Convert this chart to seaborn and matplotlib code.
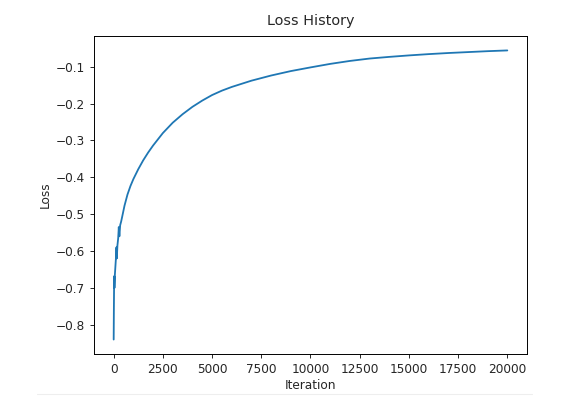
import matplotlib
matplotlib.use("Agg")
import matplotlib.pyplot as plt
import seaborn as sns
import pandas as pd
from matplotlib.lines import Line2D

iterations = [0, 10, 20, 30, 40, 60, 90, 120, 140, 160, 190, 230, 260, 290,
              330, 380, 440, 550, 700, 850, 1000, 1250, 1500, 1750, 2000,
              2500, 3000, 3500, 4000, 4500, 5000, 5500, 6000, 7000, 8000,
              9000, 10000, 11000, 12000, 13000, 14000, 15000, 16000, 17000,
              18000, 19000, 20000]
loss = [-0.840, -0.760, -0.700, -0.668, -0.700, -0.665, -0.640, -0.615,
        -0.590, -0.620, -0.585, -0.565, -0.535, -0.560, -0.530, -0.520,
        -0.505, -0.477, -0.447, -0.424, -0.405, -0.378, -0.354, -0.333,
        -0.314, -0.280, -0.252, -0.229, -0.209, -0.192, -0.177, -0.165,
        -0.155, -0.138, -0.124, -0.112, -0.102, -0.0925, -0.0845, -0.0780,
        -0.0735, -0.0695, -0.0660, -0.0630, -0.0605, -0.0580, -0.0560]

df = pd.DataFrame({"Iteration": iterations, "Loss": loss})

sns.set_style("ticks")
plt.rcParams["font.family"] = ["DejaVu Sans"]

fig = plt.figure(figsize=(5.82, 3.98), dpi=100)
ax = fig.add_axes([0.1615, 0.1106, 0.744, 0.799])
sns.lineplot(data=df, x="Iteration", y="Loss", ax=ax, color="#1f77b4",
             linewidth=1.3, sort=False, estimator=None)

for s in ax.spines.values():
    s.set_linewidth(0.7)
    s.set_color("black")
ax.tick_params(labelsize=8.7, width=0.7, length=3)
ax.set_xlabel("Iteration", fontsize=8.7, labelpad=2)
ax.set_ylabel("Loss", fontsize=8.7, labelpad=3)
ax.set_title("Loss History", fontsize=10.4, pad=8)
ax.set_xticks([0, 2500, 5000, 7500, 10000, 12500, 15000, 17500, 20000])

fig.add_artist(Line2D([37/582, 532/582], [1-394/398, 1-394/398],
                      transform=fig.transFigure, color="#eeeeee", linewidth=0.8))

fig.savefig("out.png", dpi=100)
